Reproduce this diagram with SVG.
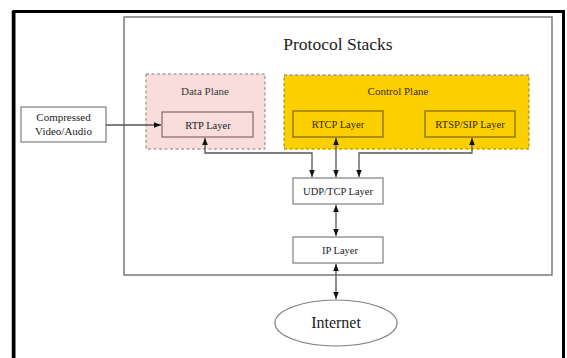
<svg xmlns="http://www.w3.org/2000/svg" width="567" height="358" viewBox="0 0 567 358">
<style>
text{font-family:"Liberation Serif","DejaVu Serif",serif;text-anchor:middle;dominant-baseline:central;fill:#222}
.box{fill:#fff;stroke:#7f7f7f;stroke-width:1.2}
.lbl{font-size:11px}
.conn{fill:none;stroke:#555;stroke-width:1.3}
</style>
<defs>
<marker id="ah" viewBox="0 0 10 10" refX="10" refY="5" markerWidth="7" markerHeight="7" markerUnits="userSpaceOnUse" orient="auto-start-reverse">
<path d="M0,1 L10,5 L0,9 z" fill="#111"/>
</marker>
</defs>
<rect width="567" height="358" fill="#fff"/>
<path d="M14,358 V11.5 H563.5 V358" fill="none" stroke="#000" stroke-width="3"/>
<line x1="12.5" y1="11" x2="12.5" y2="358" stroke="#000" stroke-width="1.5"/>
<g id="protocol-stacks">
<rect x="124" y="17" width="428" height="258" fill="#fff" stroke="#7a7a7a" stroke-width="1.5"/>
<text x="338" y="44" font-family="Liberation Serif, serif" style="font-size:17.5px">Protocol Stacks</text>
</g>
<g id="data-plane">
<rect x="146" y="74" width="119" height="75" fill="#f9dcdc" stroke="#8a7a7a" stroke-width="1" stroke-dasharray="3,2.5"/>
<text x="205" y="91" class="lbl" style="fill:#3a3a3a">Data Plane</text>
</g>
<g id="control-plane">
<rect x="284" y="75" width="245" height="74" fill="#fcd000" stroke="#8a7a30" stroke-width="1" stroke-dasharray="3,2.5"/>
<text x="398" y="91" class="lbl" style="fill:#3d3000">Control Plane</text>
</g>
<g id="rtp">
<rect x="162" y="112" width="91" height="25" fill="#f9dcdc" stroke="#8b6565" stroke-width="1.2"/>
<text x="208" y="125" class="lbl" style="font-size:10.5px">RTP Layer</text>
</g>
<g id="rtcp">
<rect x="293" y="111" width="90" height="26" fill="#fcd000" stroke="#7a6410" stroke-width="1.2"/>
<text x="338" y="124.5" class="lbl" style="font-size:10.5px;fill:#2e2500">RTCP Layer</text>
</g>
<g id="rtsp">
<rect x="425" y="111" width="90" height="26" fill="#fcd000" stroke="#7a6410" stroke-width="1.2"/>
<text x="470" y="124.5" class="lbl" style="font-size:10.5px;fill:#2e2500">RTSP/SIP Layer</text>
</g>
<g id="compressed">
<rect x="21" y="107" width="85" height="35" class="box"/>
<text x="63.5" y="117" class="lbl">Compressed</text>
<text x="63.5" y="131" class="lbl">Video/Audio</text>
</g>
<g id="udp">
<rect x="293" y="178" width="90" height="26" class="box"/>
<text x="338" y="191" class="lbl" style="font-size:10.5px">UDP/TCP Layer</text>
</g>
<g id="ip">
<rect x="293" y="237" width="90" height="26" class="box"/>
<text x="340" y="250" class="lbl" style="font-size:10.5px">IP Layer</text>
</g>
<g id="internet">
<ellipse cx="336" cy="323" rx="61" ry="23" fill="#fff" stroke="#7f7f7f" stroke-width="1.2"/>
<text x="336" y="322" style="font-size:16px;fill:#222">Internet</text>
</g>
<g id="connectors">
<path class="conn" d="M106,125 H161" marker-end="url(#ah)"/>
<path class="conn" d="M205,138 V153 H312 V177" marker-start="url(#ah)" marker-end="url(#ah)"/>
<path class="conn" d="M336,138 V177" marker-start="url(#ah)" marker-end="url(#ah)"/>
<path class="conn" d="M472,138 V153 H359 V177" marker-start="url(#ah)" marker-end="url(#ah)"/>
<path class="conn" d="M336,205 V236" marker-start="url(#ah)" marker-end="url(#ah)"/>
<path class="conn" d="M336,264 V299" marker-start="url(#ah)" marker-end="url(#ah)"/>
</g>
</svg>
